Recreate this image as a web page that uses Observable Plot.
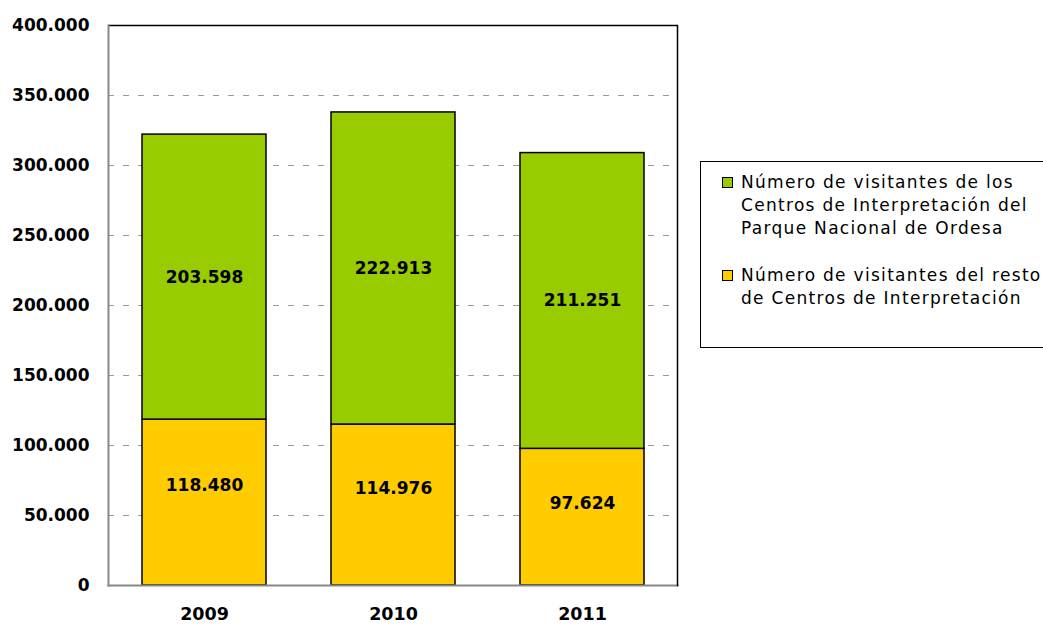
<!DOCTYPE html>
<html><head><meta charset="utf-8">
<script src="https://cdn.jsdelivr.net/npm/d3@7"></script>
<script src="https://cdn.jsdelivr.net/npm/@observablehq/plot@0.6"></script>
<style>
body{margin:0;background:#fff;font-family:"DejaVu Sans",sans-serif;}
#wrap{position:relative;width:1043px;height:624px;overflow:hidden;}
#legend{position:absolute;left:700px;top:161px;width:380px;height:187px;border:1px solid #000;box-sizing:border-box;font-family:"DejaVu Sans",sans-serif;font-size:17px;letter-spacing:1.3px;line-height:23px;color:#000;white-space:nowrap;}
.item{position:absolute;left:40px;}
.sw{position:absolute;left:-19px;top:6px;width:9px;height:9px;border:1px solid #000;}
</style></head>
<body><div id="wrap"><div id="chart"></div>
<div id="legend"></div></div>
<script>
const years = ["2009","2010","2011"];
const seriesNames = ["Número de visitantes del resto de Centros de Interpretación","Número de visitantes de los Centros de Interpretación del Parque Nacional de Ordesa"];
const resto = [118480, 114976, 97624];
const ordesa = [203598, 222913, 211251];
const yTicks = [0,50000,100000,150000,200000,250000,300000,350000,400000];
const colors = ["#FFCC00","#99CC00"];

const loc = d3.formatLocale({decimal:",",thousands:".",grouping:[3],currency:["","€"]});
const fmt = loc.format(",d");

const rows = [];
years.forEach((y,i)=>{
  rows.push({year:y, series:seriesNames[0], value:resto[i], y1:0, y2:resto[i]});
  rows.push({year:y, series:seriesNames[1], value:ordesa[i], y1:resto[i], y2:resto[i]+ordesa[i]});
});
const lower = rows.filter(d=>d.series===seriesNames[0]);
const upper = rows.filter(d=>d.series===seriesNames[1]);

const chart = Plot.plot({
  width:1043, height:624,
  marginLeft:108, marginRight:366, marginTop:25, marginBottom:39,
  style:{fontFamily:"'DejaVu Sans',sans-serif", background:"#fff"},
  x:{domain:years, paddingInner:0.345, paddingOuter:0.1725, label:null},
  y:{domain:[0,400000], label:null},
  color:{domain:seriesNames, range:colors},
  marks:[
    Plot.ruleY(yTicks.slice(1,-1), {stroke:"#999", strokeDasharray:"6,9", strokeWidth:1}),
    Plot.barY(rows, {x:"year", y1:"y1", y2:"y2", fill:"series", stroke:"#000", strokeWidth:1.5}),
    Plot.text(upper, {x:"year", y:d=>(d.y1+d.y2)/2, text:d=>fmt(d.value), fontSize:17, fontWeight:"bold", fill:"#000"}),
    Plot.text(lower, {x:"year", y:d=>d.y1+0.6*(d.y2-d.y1), text:d=>fmt(d.value), fontSize:17, fontWeight:"bold", fill:"#000"}),
    Plot.ruleY([400000], {stroke:"#000", strokeWidth:1.5}),
    Plot.axisY({ticks:yTicks, tickFormat:fmt, tickSize:0, tickPadding:19, fontSize:17, fontWeight:"bold", fill:"#000", label:null}),
    Plot.axisX({tickSize:0, tickPadding:22, fontSize:17.5, fontWeight:"bold", fill:"#000", label:null}),
    Plot.frame({anchor:"left", stroke:"#888", strokeWidth:2}),
    Plot.frame({anchor:"bottom", stroke:"#888", strokeWidth:2}),
    Plot.frame({anchor:"right", stroke:"#000", strokeWidth:1.5})
  ]
});
document.getElementById("chart").appendChild(chart);

const legend = document.getElementById("legend");
const items = [
  {color:colors[1], lines:["Número de visitantes de los","Centros de Interpretación del","Parque Nacional de Ordesa"], top:9},
  {color:colors[0], lines:["Número de visitantes del resto","de Centros de Interpretación"], top:102}
];
items.forEach(it=>{
  const d = document.createElement("div");
  d.className="item"; d.style.top=it.top+"px";
  d.innerHTML = `<div class="sw" style="background:${it.color}"></div>` + it.lines.join("<br>");
  legend.appendChild(d);
});
</script></body></html>
